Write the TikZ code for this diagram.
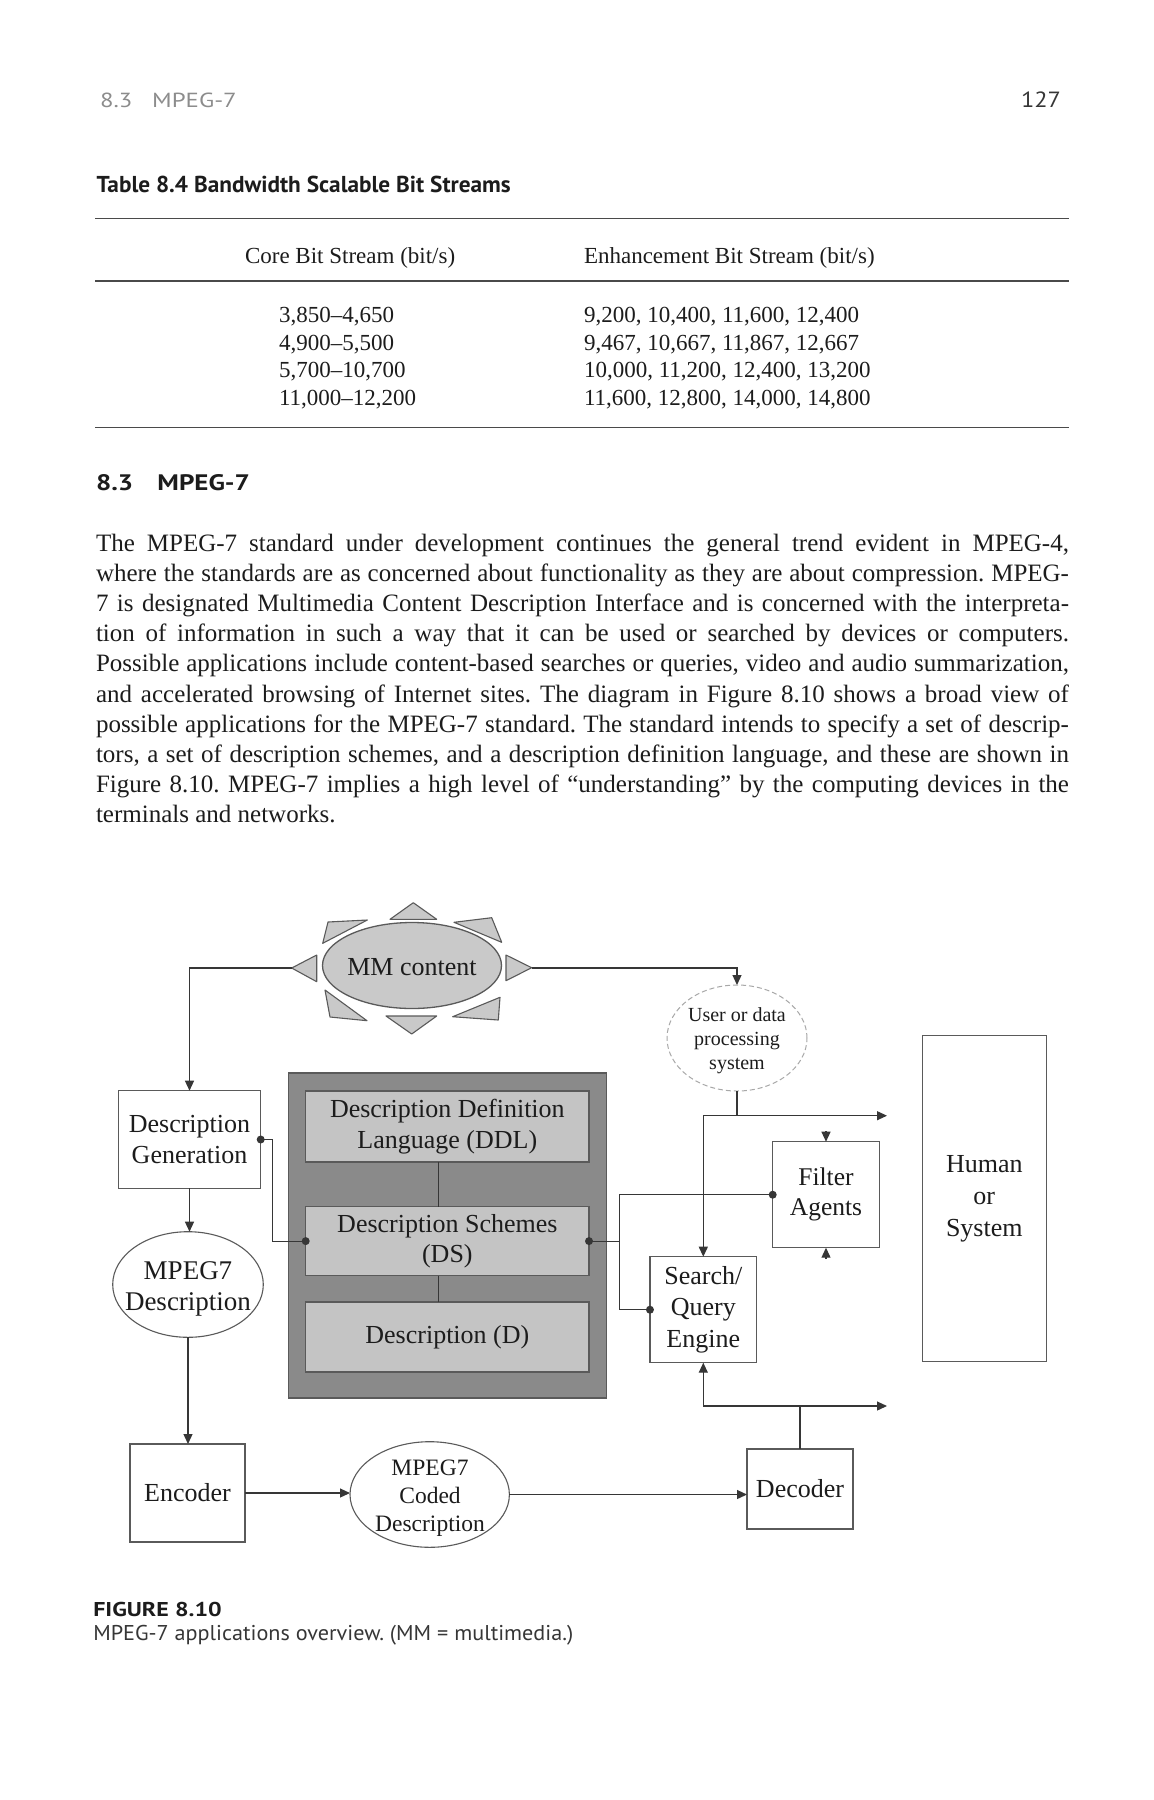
\documentclass[tikz,border=0pt]{standalone}
\usepackage{fontspec}
\setmainfont{Liberation Serif}
\newfontfamily\hsans{PT Sans}
\usepackage{graphicx}
\usetikzlibrary{arrows.meta,shapes.geometric}
\definecolor{txt}{HTML}{1C1C1C}
\definecolor{lnc}{HTML}{363636}
\definecolor{bdr}{HTML}{5A5A5A}
\definecolor{darkfill}{HTML}{8A8A8A}
\definecolor{innerfill}{HTML}{C4C4C4}
\definecolor{mmfill}{HTML}{C9C9C9}
\definecolor{hgray}{HTML}{8C8C8C}
\definecolor{rulec}{HTML}{4A4A4A}
\definecolor{dashc}{HTML}{A8A8A8}
\newcommand{\dfnt}{\fontsize{26}{30.5}\selectfont}
\newcommand{\pfnt}{\fontsize{25}{30.2}\selectfont}
\newcommand{\tfnt}{\fontsize{23}{27.5}\selectfont}
\newcommand{\hfitw}[2]{\resizebox{#1}{\height}{#2}}
\begin{document}
\frenchspacing
\begin{tikzpicture}[x=1pt,y=-1pt,
  every node/.style={inner sep=0pt, outer sep=0pt, text=txt},
  conn/.style={draw=lnc, line width=1.2pt},
  arr/.style={draw=lnc, line width=1.2pt, -{Triangle[length=10pt,width=9pt]}},
  box/.style={draw=bdr, line width=1.1pt, fill=white, align=center, font=\dfnt},
  ibox/.style={draw=bdr, line width=1.5pt, fill=innerfill, align=center, font=\dfnt},
  ell/.style={ellipse, draw=bdr, line width=1.1pt, fill=white},
  rule/.style={draw=rulec, line width=1.6pt},
  tri/.style={draw=bdr, fill=mmfill, line width=1.1pt, line join=round},
  pl/.style={anchor=base west, font=\pfnt},
  tl/.style={anchor=base west, font=\tfnt},
  dot/.style={fill=lnc}
]
\useasboundingbox (0,0) rectangle (1154,1800);
\fill[white] (0,0) rectangle (1154,1800);

% ---------- page header ----------
\node[anchor=base west, text=hgray] (hd) at (100,107.7) {\hfitw{136.7pt}{\hsans\fontsize{20.4}{24}\selectfont 8.3\hspace{0.8em}MPEG-7}};
\node[anchor=base east, text=lnc] (pg) at (1061,107.7) {\hfitw{40pt}{\hsans\fontsize{22}{26}\selectfont 127}};

% ---------- table ----------
\node[anchor=base west] (tt) at (96.7,192.7) {\hfitw{414pt}{\hsans\bfseries\fontsize{23}{27}\selectfont Table 8.4 Bandwidth Scalable Bit Streams}};
\draw[rule] (95,218.3) -- (1069,218.3);
\node[tl] (th1) at (245,263.3) {Core Bit Stream (bit/s)};
\node[tl] (th2) at (584,263.3) {Enhancement Bit Stream (bit/s)};
\draw[rule] (95,280.7) -- (1069,280.7);
\node[tl] (l1) at (279,322.8) {3,850–4,650};
\node[tl] (l2) at (279,350.5) {4,900–5,500};
\node[tl] (l3) at (279,377.8) {5,700–10,700};
\node[tl] (l4) at (279,405.1) {11,000–12,200};
\node[tl] (r1) at (584,322.8) {9,200, 10,400, 11,600, 12,400};
\node[tl] (r2) at (584,350.5) {9,467, 10,667, 11,867, 12,667};
\node[tl] (r3) at (584,377.8) {10,000, 11,200, 12,400, 13,200};
\node[tl] (r4) at (584,405.1) {11,600, 12,800, 14,000, 14,800};
\draw[rule] (95,427.3) -- (1069,427.3);

% ---------- section ----------
\node[anchor=base west] (sec) at (96,490.7) {\hfitw{154pt}{\hsans\bfseries\fontsize{22.4}{27}\selectfont 8.3\hspace{0.9em}MPEG-7}};

\node[pl] (p1) at (96,551.0) {\makebox[973pt][s]{The MPEG-7 standard under development continues the general trend evident in MPEG-4,}};
\node[pl] (p2) at (96,581.2) {\makebox[973pt][s]{where the standards are as concerned about functionality as they are about compression. MPEG-}};
\node[pl] (p3) at (96,611.4) {\makebox[973pt][s]{7 is designated Multimedia Content Description Interface and is concerned with the interpreta-}};
\node[pl] (p4) at (96,641.6) {\makebox[973pt][s]{tion of information in such a way that it can be used or searched by devices or computers.}};
\node[pl] (p5) at (96,671.8) {\makebox[973pt][s]{Possible applications include content-based searches or queries, video and audio summarization,}};
\node[pl] (p6) at (96,702.0) {\makebox[973pt][s]{and accelerated browsing of Internet sites. The diagram in Figure 8.10 shows a broad view of}};
\node[pl] (p7) at (96,732.2) {\makebox[973pt][s]{possible applications for the MPEG-7 standard. The standard intends to specify a set of descrip-}};
\node[pl] (p8) at (96,762.4) {\makebox[973pt][s]{tors, a set of description schemes, and a description definition language, and these are shown in}};
\node[pl] (p9) at (96,792.6) {\makebox[973pt][s]{Figure 8.10. MPEG-7 implies a high level of “understanding” by the computing devices in the}};
\node[pl] (p10) at (96,822.8) {terminals and networks.};

% ---------- diagram ----------
% MM content with rays
\node[ellipse, draw=bdr, fill=mmfill, line width=1.3pt, minimum width=179pt, minimum height=86pt] (mm) at (412,965.5) {};
\node[font=\dfnt] (mmt) at (412,967.4) {MM content};
\filldraw[tri] (291.7,968) -- (316.7,955) -- (316.7,981.7) -- cycle;
\filldraw[tri] (531.7,967.7) -- (506,955) -- (506,980.7) -- cycle;
\filldraw[tri] (413.3,902.7) -- (436.7,919.3) -- (390,919.3) -- cycle;
\filldraw[tri] (411.7,1034) -- (386,1016) -- (436.7,1016) -- cycle;
\filldraw[tri] (328,922) -- (367.3,920) -- (322.7,943.3) -- cycle;
\filldraw[tri] (491.7,917.7) -- (501.7,942.3) -- (454,922.3) -- cycle;
\filldraw[tri] (330,1017) -- (325,990) -- (367,1020.7) -- cycle;
\filldraw[tri] (498.3,1020) -- (452.7,1016.7) -- (500,997.3) -- cycle;
\coordinate (mmL) at (291.7,968);
\coordinate (mmR) at (531.7,968);

% user ellipse
\node[ellipse, draw=dashc, line width=1pt, dash pattern=on 5pt off 3pt, minimum width=140pt, minimum height=106pt] (us) at (737,1038) {};
\node[font=\fontsize{20}{24}\selectfont, align=center] (ust) at (737,1040.3) {User or data\\processing\\system};

% description generation
\node[box, minimum width=142.4pt, minimum height=97.6pt] (dg) at (189.5,1139.5) {Description\\Generation};

% dark block
\node[draw=bdr, fill=darkfill, line width=1.5pt, minimum width=318.2pt, minimum height=325pt] (dk) at (447.4,1235.5) {};
\node[ibox, minimum width=283.3pt, minimum height=71pt] (ddl) at (447.35,1126.5) {Description Definition\\Language (DDL)};
\node[ibox, minimum width=283.3pt, minimum height=68.8pt] (ds) at (447.35,1241.1) {Description Schemes\\(DS)};
\node[ibox, minimum width=283.3pt, minimum height=70pt] (dd) at (447.35,1337) {Description (D)};
\draw[conn] ([xshift=-9.2pt]ddl.south) -- ([xshift=-9.2pt]ddl.south |- ds.north);
\draw[conn] ([xshift=-9.2pt]ds.south) -- ([xshift=-9.2pt]ds.south |- dd.north);

% MPEG7 description
\node[ell, minimum width=150.6pt, minimum height=105.6pt] (md) at (188,1284.5) {};
\node[font=\fontsize{27}{30.7}\selectfont, align=center] (mdt) at (188,1288.6) {MPEG7\\Description};

% encoder, coded, decoder
\node[box, minimum width=115pt, minimum height=98pt] (enc) at (187.5,1493) {Encoder};
\node[ell, minimum width=159.4pt, minimum height=105.6pt] (cd) at (429.7,1494.5) {};
\node[font=\fontsize{23.5}{28}\selectfont, align=center] (cdt) at (430,1498.6) {MPEG7\\Coded\\Description};
\node[box, minimum width=106pt, minimum height=80pt] (dec) at (800,1489) {Decoder};

% filter, search, human
\node[box, minimum width=106.6pt, minimum height=106pt, font=\fontsize{25.5}{30.3}\selectfont] (fa) at (826,1194.7) {Filter\\Agents};
\node[box, minimum width=106.7pt, minimum height=106pt, font=\fontsize{26}{31.3}\selectfont] (sq) at (703.3,1309.7) {Search/\\Query\\Engine};
\node[box, minimum width=123.5pt, minimum height=326pt, font=\fontsize{26}{31.7}\selectfont] (hs) at (984.3,1198.8) {Human\\or\\System};

% connectors
\draw[arr] (mmL) -| (dg.north);
\draw[arr] (mmR) -| (us.north);
\draw[arr] (dg.south) -- (dg.south |- md.north);
\draw[arr] (md.south) -- (md.south |- enc.north);
\draw[arr] (enc.east) -- (enc.east -| cd.west);
\draw[arr] (cd.east) -- (cd.east -| dec.west);

\draw[conn] (dg.east) -- ++(12,0) |- (ds.west);
\coordinate (j1) at (619.3,1241.1);
\draw[conn] (ds.east) -- (j1);
\draw[conn] (fa.west) -| (j1);
\draw[conn] (sq.west) -| (j1);
\fill[dot] (dg.east) circle[radius=4pt];
\fill[dot] (ds.west) circle[radius=4pt];
\fill[dot] (ds.east) circle[radius=4pt];
\fill[dot] (fa.west) circle[radius=4pt];
\fill[dot] (sq.west) circle[radius=4pt];

\coordinate (j3) at (703.3,1115.7);
\coordinate (outTop) at (887,1115.7);
\draw[conn] (us.south) -- (us.south |- j3);
\draw[arr] (j3) -- (outTop);
\draw[arr] (j3) -- (sq.north);
\coordinate (faTop) at (826,1131);
\coordinate (faBot) at (826,1259);
\draw[arr] (faTop) -- (fa.north);
\draw[arr] (faBot) -- (fa.south);

\coordinate (j4) at (703.3,1406);
\coordinate (outBot) at (887,1406);
\draw[conn] (dec.north) -- (dec.north |- j4);
\draw[arr] (j4) -- (outBot);
\draw[arr] (j4) -- (sq.south);

% ---------- caption ----------
\node[anchor=base west] (fig) at (93.3,1616.7) {\hfitw{128.4pt}{\hsans\bfseries\fontsize{20}{24}\selectfont FIGURE 8.10}};
\node[anchor=base west, text=lnc] (cap) at (93.3,1640) {\hfitw{480pt}{\hsans\fontsize{21.4}{25}\selectfont MPEG-7 applications overview. (MM = multimedia.)}};
\end{tikzpicture}
\end{document}
